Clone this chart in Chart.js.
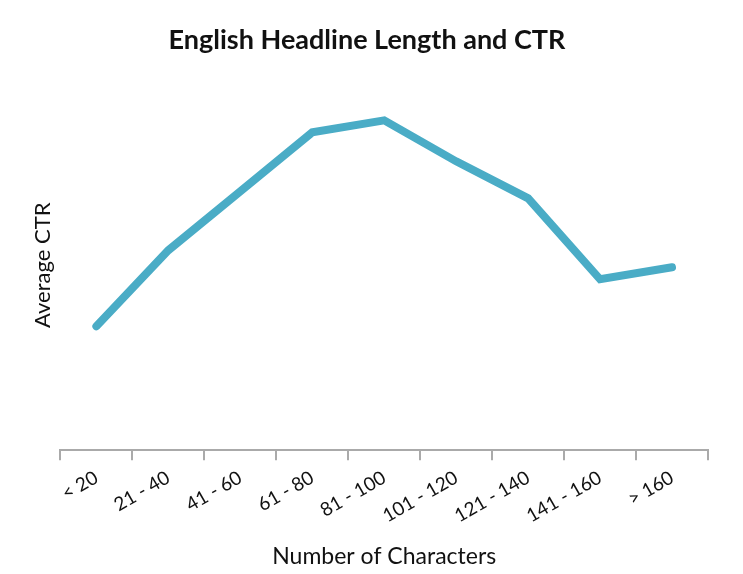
<!DOCTYPE html>
<html><head><meta charset="utf-8">
<script src="https://cdn.jsdelivr.net/npm/chart.js@4/dist/chart.umd.min.js"></script>
<style>html,body{margin:0;padding:0;background:#fff}#wrap{width:743px;height:574px}</style>
</head><body><div id="wrap"><canvas id="c" width="743" height="574"></canvas></div>
<script>
const categories = ["< 20","21 - 40","41 - 60","61 - 80","81 - 100","101 - 120","121 - 140","141 - 160","> 160"];
const ctrValues = [1.24, 2.00, 2.59, 3.18, 3.30, 2.89, 2.52, 1.71, 1.83];
const yMin = 0, yMax = 3.7;

new Chart(document.getElementById('c'), {
  type: 'line',
  data: { labels: categories, datasets: [{ data: ctrValues, borderColor: '#4aacc6', borderWidth: 8, pointRadius: 0, tension: 0, borderCapStyle: 'round', borderJoinStyle: 'miter', fill: false }] },
  options: {
    responsive: false, animation: false, devicePixelRatio: 1,
    layout: { padding: { left: 26, right: 35, top: 10, bottom: 0 } },
    plugins: {
      legend: { display: false }, tooltip: { enabled: false },
      title: { display: true, text: 'English Headline Length and CTR', color: '#111', font: { family: 'Lato', size: 27, weight: 'bold' }, padding: { top: 14, bottom: 24 } }
    },
    scales: {
      x: {
        offset: true,
        grid: { offset: true, drawOnChartArea: false, drawTicks: true, tickLength: 10, color: '#aaaaaa', lineWidth: 2 },
        border: { display: true, color: '#aaaaaa', width: 2 },
        ticks: { color: '#111', font: { family: 'Lato', size: 19 }, minRotation: 30, maxRotation: 30, padding: 6 },
        title: { display: true, text: 'Number of Characters', color: '#111', font: { family: 'Lato', size: 23 }, padding: { top: 9 } }
      },
      y: {
        min: yMin, max: yMax,
        grid: { display: false }, border: { display: false },
        ticks: { display: false },
        title: { display: true, text: 'Average CTR', color: '#111', font: { family: 'Lato', size: 22 }, padding: { top: 4, bottom: -4 } }
      }
    }
  }
});
</script></body></html>
